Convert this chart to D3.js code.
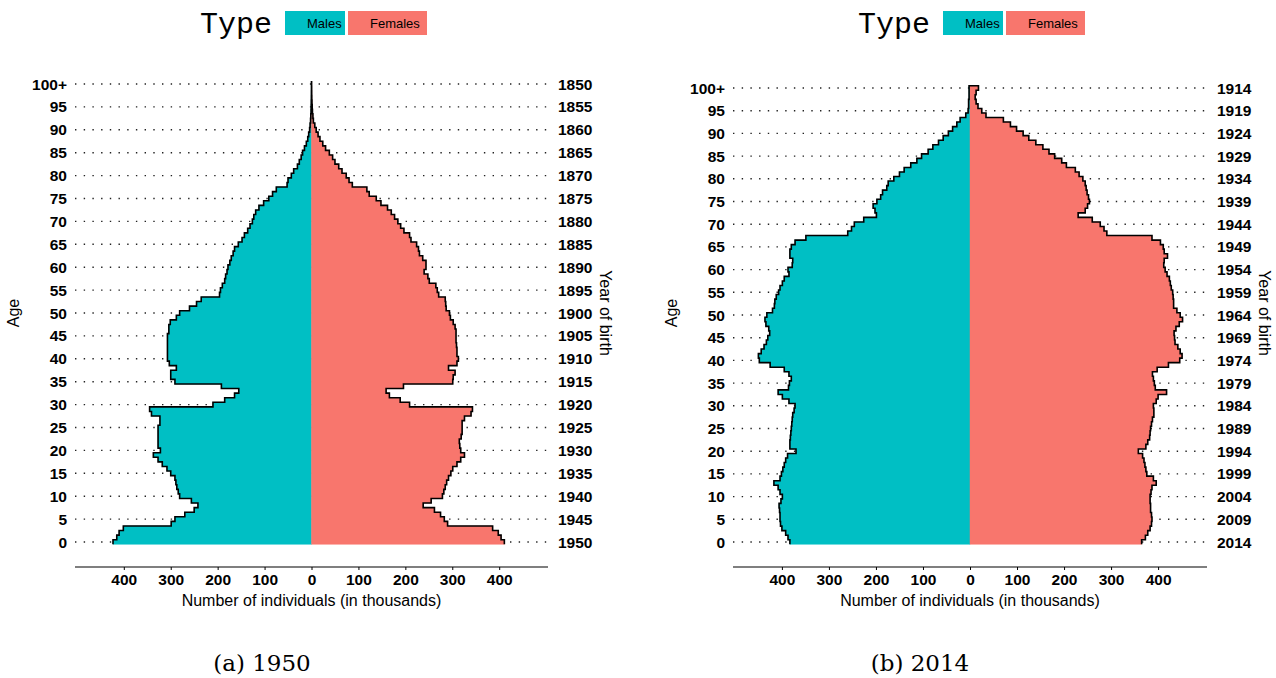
<!DOCTYPE html>
<html>
<head>
<meta charset="utf-8">
<script src="https://cdn.jsdelivr.net/npm/d3@7"></script>
<style>
body { margin: 0; background: #fff; }
text { font-family: "Liberation Sans", Arial, sans-serif; }
</style>
</head>
<body>
<div id="vis-div"></div>
<script>
// ages 0..100 (100 = 100+)
var ages = d3.range(0, 101);
var ageTicks = [0, 5, 10, 15, 20, 25, 30, 35, 40, 45, 50, 55, 60, 65, 70, 75, 80, 85, 90, 95, 100];
var ageTickLabels = ["0", "5", "10", "15", "20", "25", "30", "35", "40", "45", "50", "55", "60", "65", "70", "75", "80", "85", "90", "95", "100+"];
var birth1950 = ["1950", "1945", "1940", "1935", "1930", "1925", "1920", "1915", "1910", "1905", "1900", "1895", "1890", "1885", "1880", "1875", "1870", "1865", "1860", "1855", "1850"];
var birth2014 = ["2014", "2009", "2004", "1999", "1994", "1989", "1984", "1979", "1974", "1969", "1964", "1959", "1954", "1949", "1944", "1939", "1934", "1929", "1924", "1919", "1914"];
var xTicks = [-400, -300, -200, -100, 0, 100, 200, 300, 400];
var sexes = ["Males", "Females"];
var colors = ["#00BFC4", "#F8766D"];

// thousands of individuals by age
var males1950 = [423, 415, 410, 401, 299, 291, 270, 250, 242, 256,
  281, 284, 287, 289, 291, 300, 308, 318, 327, 337,
  322, 327, 327, 327, 327, 327, 323, 323, 341, 345,
  210, 185, 164, 155, 192, 291, 300, 300, 288, 303,
  307, 307, 307, 307, 307, 307, 304, 304, 301, 288,
  281, 260, 245, 235, 196, 194, 190, 185, 183, 180,
  178, 174, 171, 167, 164, 156, 148, 143, 136, 131,
  126, 123, 119, 112, 102, 91, 83, 75, 52, 50,
  43, 38, 30, 26, 22, 19, 15, 11, 8, 6,
  4, 3, 2, 1.5, 1, 0.7, 0.5, 0.3, 0.2, 0.1, 0.1];
var females1950 = [411, 404, 398, 386, 290, 283, 275, 262, 238, 255,
  279, 282, 285, 288, 292, 297, 301, 310, 318, 326,
  318, 316, 315, 319, 321, 321, 321, 326, 340, 343,
  209, 189, 166, 159, 196, 301, 302, 306, 292, 310,
  313, 310, 310, 309, 308, 308, 308, 306, 302, 296,
  294, 287, 286, 285, 271, 268, 265, 251, 248, 240,
  244, 244, 237, 230, 228, 224, 212, 209, 197, 190,
  184, 177, 170, 162, 148, 138, 123, 118, 87, 80,
  74, 65, 58, 50, 45, 38, 30, 24, 18, 14,
  10, 7, 4, 3, 2, 1.5, 1, 0.6, 0.4, 0.3, 0.2];
var males2014 = [383, 387, 392, 400, 403, 404, 404, 405, 406, 402,
  399, 404, 408, 417, 404, 401, 398, 395, 392, 388,
  370, 383, 383, 382, 381, 380, 379, 378, 377, 374,
  372, 385, 399, 408, 386, 384, 380, 385, 395, 425,
  448, 450, 444, 438, 433, 430, 426, 428, 434, 436,
  432, 420, 416, 415, 412, 407, 404, 399, 395, 385,
  387, 378, 377, 383, 383, 380, 372, 349, 260, 252,
  246, 226, 199, 202, 206, 198, 190, 186, 177, 174,
  162, 150, 140, 126, 113, 103, 89, 79, 67, 57,
  46, 37, 28, 21, 9, 4, 3, 3, 2, 2, 2];
var females2014 = [365, 373, 378, 383, 386, 387, 386, 384, 384, 383,
  383, 385, 387, 396, 390, 376, 374, 372, 370, 367,
  358, 374, 378, 382, 383, 384, 386, 388, 391, 391,
  390, 396, 400, 418, 394, 392, 390, 388, 398, 422,
  446, 451, 447, 442, 436, 435, 434, 438, 445, 452,
  447, 440, 433, 433, 432, 431, 428, 426, 424, 419,
  415, 412, 413, 420, 413, 411, 405, 387, 291, 285,
  277, 260, 230, 245, 250, 254, 252, 249, 247, 245,
  240, 232, 224, 205, 195, 180, 168, 155, 140, 125,
  113, 99, 86, 71, 34, 25, 17, 13, 11, 13, 18];

var svg = d3.select("#vis-div").append("svg")
  .attr("width", 1276).attr("height", 678);

function pyramid(cfg) {
  var x = d3.scaleLinear().domain([-504, 504]).range([cfg.x0, cfg.x1]);
  var y = d3.scaleLinear().domain([0, 100]).range([542, cfg.yTop]);
  var h = (y(0) - y(1)) / 2;
  var g = svg.append("g");

  // dotted grid lines
  g.append("g").selectAll("line").data(ageTicks).enter().append("line")
    .attr("x1", cfg.x0).attr("x2", cfg.x1)
    .attr("y1", d => y(d)).attr("y2", d => y(d))
    .attr("stroke", "#222").attr("stroke-width", 1.4)
    .attr("stroke-dasharray", "1.4 7.3");

  // filled halves
  var halves = [cfg.males.map(v => -v), cfg.females];
  var line = d3.line().x(d => x(d[0])).y(d => d[1]);
  halves.forEach(function (vals, k) {
    var pts = [[0, y(0) + h]];
    vals.forEach(function (v, i) {
      pts.push([v, y(ages[i]) + h]);
      pts.push([v, y(ages[i]) - h]);
    });
    pts.push([0, y(100) - h]);
    g.append("path").attr("d", line(pts) + "Z")
      .attr("fill", colors[k]).attr("stroke", colors[k]).attr("stroke-width", 0.5);
  });

  // black step outline
  var outline = [];
  halves[0].forEach(function (v, i) {
    outline.push([v, y(ages[i]) + h]);
    outline.push([v, y(ages[i]) - h]);
  });
  for (var i = halves[1].length - 1; i >= 0; i--) {
    outline.push([halves[1][i], y(ages[i]) - h]);
    outline.push([halves[1][i], y(ages[i]) + h]);
  }
  g.append("path").attr("d", line(outline))
    .attr("fill", "none").attr("stroke", "#000").attr("stroke-width", 1.6)
    .attr("stroke-linejoin", "miter");

  // bottom axis
  var xAxis = d3.axisBottom(x).tickValues(xTicks).tickSize(3)
    .tickFormat(d => Math.abs(d));
  var ax = g.append("g").attr("transform", "translate(0,567)").call(xAxis);
  ax.select(".domain").attr("d", "M" + cfg.x0 + ",0H" + cfg.x1).attr("stroke", "#000").attr("stroke-width", 1.2);
  ax.selectAll(".tick line").attr("stroke", "#000");
  ax.selectAll("text").attr("font-size", 15.5).attr("font-weight", "bold")
    .attr("fill", "#000").attr("dy", "0.8em")
    .style("font-family", "'Liberation Sans', Arial, sans-serif");

  // age labels (left) and birth year labels (right)
  g.append("g").selectAll("text").data(ageTicks).enter().append("text")
    .attr("x", cfg.x0 - 8).attr("y", d => y(d)).attr("dy", "0.36em")
    .attr("text-anchor", "end").attr("font-size", 15.5).attr("font-weight", "bold")
    .text((d, i) => ageTickLabels[i]);
  g.append("g").selectAll("text").data(ageTicks).enter().append("text")
    .attr("x", cfg.x1 + 10).attr("y", d => y(d)).attr("dy", "0.36em")
    .attr("text-anchor", "start").attr("font-size", 15.5).attr("font-weight", "bold")
    .text((d, i) => cfg.years[i]);

  // axis titles
  g.append("text").attr("x", x(0)).attr("y", 606).attr("text-anchor", "middle")
    .attr("font-size", 16).text("Number of individuals (in thousands)");
  g.append("text").attr("transform", "translate(" + (cfg.x0 - 56) + ",313) rotate(-90)")
    .attr("text-anchor", "middle").attr("font-size", 16).text("Age");
  g.append("text").attr("transform", "translate(" + (cfg.x1 + 52) + ",313) rotate(90)")
    .attr("text-anchor", "middle").attr("font-size", 16).text("Year of birth");

  // legend
  var lg = g.append("g").attr("transform", "translate(" + cfg.legendX + ",0)");
  lg.append("text").attr("x", 0).attr("y", 33).attr("font-size", 30)
    .style("font-family", "'Liberation Mono', 'Courier New', monospace").text("Type");
  var keyX = [85, 148], keyW = [60, 79];
  sexes.forEach(function (s, k) {
    lg.append("rect").attr("x", keyX[k]).attr("y", 11).attr("width", keyW[k]).attr("height", 24)
      .attr("fill", colors[k]);
    lg.append("text").attr("x", keyX[k] + 22).attr("y", 28).attr("font-size", 13).text(s);
  });

  // caption
  svg.append("text").attr("x", cfg.capX).attr("y", 671).attr("text-anchor", "middle")
    .attr("font-size", 23).style("font-family", "'DejaVu Serif', 'Liberation Serif', serif")
    .text(cfg.caption);
}

pyramid({ x0: 75, x1: 548, yTop: 84, males: males1950, females: females1950,
  years: birth1950, legendX: 200, capX: 262, caption: "(a) 1950" });
pyramid({ x0: 733, x1: 1207, yTop: 88, males: males2014, females: females2014,
  years: birth2014, legendX: 858, capX: 920, caption: "(b) 2014" });
</script>
</body>
</html>
